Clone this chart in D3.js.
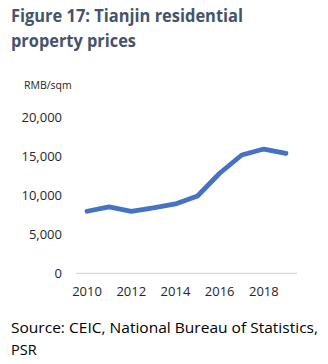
<!DOCTYPE html>
<html>
<head>
<meta charset="utf-8">
<script src="https://cdn.jsdelivr.net/npm/d3@7"></script>
<style>
  body { margin: 0; background: #fff; }
  text { font-family: "Open Sans", "Noto Sans", sans-serif; }
</style>
</head>
<body>
<div id="chart"></div>
<script>
const width = 328;
const height = 364;

// average residential prices, RMB per square metre
const years = [2010, 2011, 2012, 2013, 2014, 2015, 2016, 2017, 2018, 2019];
const prices = [7940, 8500, 7930, 8380, 8870, 9890, 12800, 15140, 15900, 15350];
const yTicks = [0, 5000, 10000, 15000, 20000];
const xLabels = [2010, 2012, 2014, 2016, 2018];

const svg = d3.select("#chart").append("svg").attr("width", width).attr("height", height);

const margin = { left: 76, right: 31, top: 117, bottom: 91 };

const x = d3.scaleBand().domain(years).range([margin.left, width - margin.right]);
const y = d3.scaleLinear().domain([0, 20000]).range([height - margin.bottom + 0.3, margin.top]);

// title
const title = svg.append("text")
    .attr("x", 11)
    .attr("fill", "#44546a")
    .attr("font-weight", "bold")
    .attr("font-size", 17.5);
title.append("tspan").attr("x", 11).attr("y", 22).attr("textLength", 232).attr("lengthAdjust", "spacingAndGlyphs").text("Figure 17: Tianjin residential");
title.append("tspan").attr("x", 11).attr("y", 47).attr("textLength", 125).attr("lengthAdjust", "spacingAndGlyphs").text("property prices");

svg.append("text")
    .attr("x", 24).attr("y", 89)
    .attr("font-size", 10.5)
    .attr("fill", "#262626")
    .text("RMB/sqm");

// y axis labels only, no line
const yAxis = d3.axisLeft(y).tickValues(yTicks).tickSize(0).tickPadding(0)
    .tickFormat(d3.format(","));
svg.append("g")
    .attr("transform", `translate(${margin.left - 14},0)`)
    .call(yAxis)
    .call(g => g.select(".domain").remove())
    .call(g => g.selectAll("text").attr("font-size", 13).attr("fill", "#262626")
        .attr("font-family", "'Open Sans', sans-serif"));

// baseline at zero
svg.append("line")
    .attr("x1", margin.left).attr("x2", width - margin.right)
    .attr("y1", y(0)).attr("y2", y(0))
    .attr("stroke", "#d9d9d9").attr("stroke-width", 1.3);

const xAxis = d3.axisBottom(x).tickValues(xLabels).tickSize(0).tickPadding(0);
svg.append("g")
    .attr("transform", `translate(0,${y(0) + 13})`)
    .call(xAxis)
    .call(g => g.select(".domain").remove())
    .call(g => g.selectAll("text").attr("font-size", 13).attr("fill", "#262626")
        .attr("font-family", "'Open Sans', sans-serif"));

const line = d3.line()
    .x((d, i) => x(years[i]) + x.bandwidth() / 2)
    .y(d => y(d));

svg.append("path")
    .datum(prices)
    .attr("d", line)
    .attr("fill", "none")
    .attr("stroke", "#4472c4")
    .attr("stroke-width", 4.8)
    .attr("stroke-linecap", "round")
    .attr("stroke-linejoin", "round");

// source note
const source = svg.append("text")
    .attr("font-size", 14.5)
    .attr("fill", "#000");
source.append("tspan").attr("x", 11).attr("y", 333).attr("textLength", 307).attr("lengthAdjust", "spacingAndGlyphs").text("Source: CEIC, National Bureau of Statistics,");
source.append("tspan").attr("x", 11).attr("y", 355).text("PSR");
</script>
</body>
</html>
